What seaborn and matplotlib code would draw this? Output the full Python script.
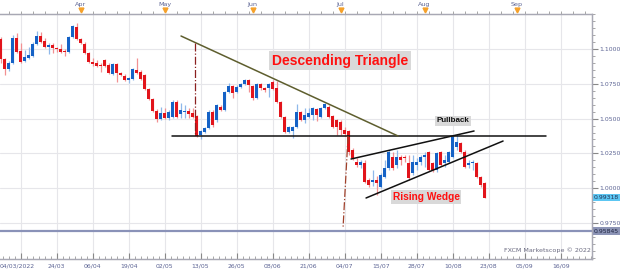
import numpy as np
import pandas as pd
import seaborn as sns
import matplotlib.pyplot as plt
import matplotlib.transforms as mtransforms
from matplotlib.ticker import MultipleLocator, FixedLocator

# daily candles, index = trading days counted from the first grid line
start_idx = -5
opens = [1.1072, 1.0928, 1.0856, 1.0899, 1.1079,
         1.0986, 1.0914, 1.0935, 1.0950, 1.1036, 1.1093, 1.1057, 1.1014, 1.1029, 1.1007,
         1.1000, 1.0986, 1.0978, 1.1086, 1.1158, 1.1072, 1.1036, 1.0971, 1.0907, 1.0899,
         1.0885, 1.0921, 1.0885, 1.0821, 1.0892, 1.0828, 1.0806, 1.0777, 1.0785, 1.0849,
         1.0835, 1.0813, 1.0713, 1.0641, 1.0555, 1.0497, 1.0540, 1.0505, 1.0512, 1.0619,
         1.0533, 1.0548, 1.0555, 1.0540, 1.0519, 1.0383, 1.0404, 1.0433, 1.0548, 1.0490,
         1.0584, 1.0562, 1.0691, 1.0734, 1.0691, 1.0727, 1.0749, 1.0777, 1.0734, 1.0648,
         1.0749, 1.0720, 1.0720, 1.0763, 1.0720, 1.0619, 1.0512, 1.0404, 1.0411, 1.0440,
         1.0548, 1.0490, 1.0512, 1.0526, 1.0569, 1.0512, 1.0576, 1.0584, 1.0519, 1.0490,
         1.0476, 1.0418, 1.0411, 1.0275, 1.0189, 1.0167, 1.0181, 1.0059, 1.0045, 1.0059,
         1.0009, 1.0081, 1.0146, 1.0225, 1.0167, 1.0225, 1.0225, 1.0181, 1.0110, 1.0167,
         1.0189, 1.0225, 1.0260, 1.0181, 1.0131, 1.0260, 1.0181, 1.0189, 1.0225, 1.0296,
         1.0325, 1.0260, 1.0167, 1.0181, 1.0181, 1.0081, 1.0038]
highs = [1.1086, 1.0935, 1.0914, 1.1101, 1.1115,
         1.1043, 1.0993, 1.1014, 1.1050, 1.1129, 1.1122, 1.1079, 1.1043, 1.1043, 1.1014,
         1.1036, 1.1000, 1.1093, 1.1172, 1.1187, 1.1079, 1.1050, 1.0978, 1.0935, 1.0921,
         1.0899, 1.0928, 1.0899, 1.0899, 1.0899, 1.0835, 1.0821, 1.0799, 1.0864, 1.0935,
         1.0849, 1.0821, 1.0720, 1.0648, 1.0569, 1.0584, 1.0576, 1.0562, 1.0634, 1.0634,
         1.0612, 1.0598, 1.0576, 1.0576, 1.0526, 1.0418, 1.0440, 1.0562, 1.0562, 1.0605,
         1.0598, 1.0698, 1.0756, 1.0742, 1.0742, 1.0756, 1.0785, 1.0785, 1.0742, 1.0756,
         1.0756, 1.0727, 1.0756, 1.0777, 1.0770, 1.0627, 1.0519, 1.0447, 1.0447, 1.0605,
         1.0555, 1.0576, 1.0576, 1.0584, 1.0576, 1.0584, 1.0612, 1.0598, 1.0526, 1.0497,
         1.0490, 1.0440, 1.0418, 1.0289, 1.0217, 1.0203, 1.0203, 1.0074, 1.0131, 1.0088,
         1.0110, 1.0203, 1.0275, 1.0260, 1.0275, 1.0239, 1.0239, 1.0239, 1.0239, 1.0217,
         1.0239, 1.0260, 1.0268, 1.0189, 1.0260, 1.0268, 1.0239, 1.0268, 1.0383, 1.0383,
         1.0332, 1.0275, 1.0203, 1.0203, 1.0189, 1.0088, 1.0045]
lows = [1.0899, 1.0813, 1.0842, 1.0892, 1.0971,
        1.0899, 1.0907, 1.0928, 1.0943, 1.1029, 1.1043, 1.1007, 1.0964, 1.0971, 1.0978,
        1.0971, 1.0950, 1.0971, 1.1079, 1.1065, 1.1036, 1.0964, 1.0899, 1.0878, 1.0871,
        1.0835, 1.0871, 1.0821, 1.0813, 1.0763, 1.0806, 1.0770, 1.0756, 1.0777, 1.0821,
        1.0777, 1.0706, 1.0634, 1.0548, 1.0476, 1.0490, 1.0497, 1.0490, 1.0505, 1.0505,
        1.0505, 1.0505, 1.0505, 1.0505, 1.0368, 1.0354, 1.0397, 1.0426, 1.0440, 1.0476,
        1.0555, 1.0555, 1.0684, 1.0648, 1.0684, 1.0720, 1.0742, 1.0691, 1.0634, 1.0641,
        1.0706, 1.0691, 1.0655, 1.0706, 1.0612, 1.0505, 1.0397, 1.0397, 1.0361, 1.0433,
        1.0483, 1.0469, 1.0505, 1.0490, 1.0483, 1.0505, 1.0569, 1.0505, 1.0433, 1.0383,
        1.0383, 1.0375, 1.0239, 1.0203, 1.0153, 1.0146, 1.0038, 1.0009, 1.0017, 0.9952,
        1.0002, 1.0074, 1.0131, 1.0131, 1.0146, 1.0167, 1.0189, 1.0059, 1.0095, 1.0131,
        1.0167, 1.0153, 1.0124, 1.0117, 1.0117, 1.0160, 1.0153, 1.0181, 1.0217, 1.0275,
        1.0253, 1.0146, 1.0146, 1.0131, 1.0074, 1.0009, 0.9930]
closes = [1.0928, 1.0856, 1.0899, 1.1079, 1.0978,
          1.0907, 1.0943, 1.0957, 1.1036, 1.1093, 1.1050, 1.1014, 1.1029, 1.1007, 1.1000,
          1.0978, 1.0978, 1.1086, 1.1165, 1.1072, 1.1043, 1.0971, 1.0907, 1.0892, 1.0878,
          1.0878, 1.0878, 1.0828, 1.0892, 1.0828, 1.0813, 1.0777, 1.0792, 1.0856, 1.0828,
          1.0785, 1.0713, 1.0641, 1.0555, 1.0497, 1.0540, 1.0505, 1.0548, 1.0619, 1.0512,
          1.0562, 1.0555, 1.0533, 1.0512, 1.0375, 1.0411, 1.0433, 1.0548, 1.0454, 1.0598,
          1.0562, 1.0691, 1.0734, 1.0684, 1.0727, 1.0749, 1.0777, 1.0742, 1.0648, 1.0749,
          1.0720, 1.0706, 1.0749, 1.0713, 1.0619, 1.0512, 1.0404, 1.0440, 1.0440, 1.0548,
          1.0490, 1.0526, 1.0540, 1.0576, 1.0526, 1.0576, 1.0605, 1.0512, 1.0440, 1.0440,
          1.0418, 1.0390, 1.0260, 1.0217, 1.0167, 1.0189, 1.0045, 1.0024, 1.0059, 1.0038,
          1.0095, 1.0146, 1.0260, 1.0146, 1.0225, 1.0203, 1.0217, 1.0074, 1.0189, 1.0189,
          1.0225, 1.0239, 1.0131, 1.0131, 1.0253, 1.0167, 1.0203, 1.0260, 1.0368, 1.0332,
          1.0260, 1.0153, 1.0181, 1.0189, 1.0081, 1.0024, 0.99318]

date_ticks = [0, 9, 18, 27, 36, 45, 54, 63, 72, 81, 90, 99, 108, 117, 126, 135]
date_labels = ["04/03/2022", "24/03", "06/04", "19/04", "02/05", "13/05", "26/05", "08/06",
               "21/06", "04/07", "15/07", "28/07", "10/08", "23/08", "05/09", "16/09"]
month_ticks = [15, 36, 58, 80, 101, 124]
month_labels = ["Apr", "May", "Jun", "Jul", "Aug", "Sep"]
price_ticks = [0.975, 1.0, 1.025, 1.05, 1.075, 1.1]

# hand drawn studies (trading-day index, price)
support_x, support_y = [37.9, 131.4], [1.0375, 1.0375]
desc_x, desc_y = [40.1, 94.35], [1.1093, 1.0375]
drop1_x, drop1_y = [43.7, 43.7], [1.1043, 1.0375]
drop2_x, drop2_y = [81.85, 80.6], [1.0375, 0.9715]
wedge_top_x, wedge_top_y = [82.6, 113.35], [1.0210, 1.0411]
wedge_low_x, wedge_low_y = [86.35, 120.6], [0.9930, 1.0339]
bottom_level = 0.9693
last_price = 0.99318

df = pd.DataFrame({"idx": np.arange(start_idx, start_idx + len(opens)),
                   "open": opens, "high": highs, "low": lows, "close": closes})
df["up"] = df["close"] >= df["open"]

sns.set_style("white")
plt.rcParams["font.family"] = ["DejaVu Sans"]

fig = plt.figure(figsize=(6.25, 2.72), dpi=100)
ax = fig.add_axes([0, 0.0478, 0.947, 0.9007])
ax.set_xlim(-5.15, 142.8)
ax.set_ylim(0.9492, 1.1251)

grid_col = "#e6e6ea"
for t in date_ticks:
    ax.axvline(t, color=grid_col, lw=0.8, zorder=0)
for p in price_ticks:
    ax.axhline(p, color=grid_col, lw=0.8, zorder=0)

for up, body_col, wick_col in [(True, "#1562c6", "#8fb8ea"), (False, "#e2141b", "#f29092")]:
    d = df[df["up"] == up]
    ax.vlines(d["idx"], d["low"], d["high"], color=wick_col, lw=0.9, zorder=3)
    ax.bar(d["idx"], (d["close"] - d["open"]).abs().clip(lower=0.0004),
           bottom=d[["open", "close"]].min(axis=1), width=0.78,
           color=body_col, lw=0, zorder=4)

sns.lineplot(x=support_x, y=support_y, ax=ax, color="#111111", lw=1.1, zorder=5)
sns.lineplot(x=desc_x, y=desc_y, ax=ax, color="#5e5e2e", lw=1.1, zorder=5)
sns.lineplot(x=wedge_top_x, y=wedge_top_y, ax=ax, color="#111111", lw=1.1, zorder=5)
sns.lineplot(x=wedge_low_x, y=wedge_low_y, ax=ax, color="#111111", lw=1.1, zorder=5)
ax.plot(drop1_x, drop1_y, color="#8b2020", lw=0.9, ls="-.", zorder=5)
ax.plot(drop2_x, drop2_y, color="#a0402a", lw=0.9, ls="-.", zorder=5)
ax.axhline(bottom_level, color="#8a92b8", lw=1.6, zorder=2)

box = dict(boxstyle="square,pad=0.18", fc="#d9d9d9", ec="none")
ax.text(79.85, 1.0914, "Descending Triangle", color="#ff1010", fontsize=10,
        fontweight="bold", family="Liberation Sans", ha="center", va="center", bbox=box, zorder=6)
ax.text(101.35, 0.9937, "Rising Wedge", color="#ff1010", fontsize=7.3,
        fontweight="bold", family="Liberation Sans", ha="center", va="center", bbox=box, zorder=6)
ax.text(108.1, 1.0483, "Pullback", color="#111111", fontsize=5.8,
        fontweight="bold", family="Liberation Sans", ha="center", va="center", bbox=box, zorder=6)
ax.text(0.998, 0.034, "FXCM Marketscope © 2022", transform=ax.transAxes, fontsize=4.6,
        color="#6a6a80", ha="right", va="center")

lab_col = "#5c6494"
ax.yaxis.tick_right()
ax.yaxis.set_major_locator(FixedLocator(price_ticks))
ax.yaxis.set_minor_locator(MultipleLocator(0.005))
ax.yaxis.set_major_formatter(lambda v, pos: f"{v:.4f}")
ax.tick_params(axis="y", which="major", length=4, color="#888888", labelsize=4.4,
               labelcolor=lab_col, pad=1.5, right=True, left=False)
ax.tick_params(axis="y", which="minor", length=2, color="#999999", right=True, left=False)

ax.xaxis.set_major_locator(FixedLocator(date_ticks))
ax.set_xticklabels(date_labels)
ax.xaxis.set_minor_locator(MultipleLocator(1.5))
ax.tick_params(axis="x", which="major", direction="in", length=4, color="#888888",
               labelsize=4.4, labelcolor=lab_col, pad=3)
ax.tick_params(axis="x", which="minor", direction="in", length=2, color="#999999")
first = ax.get_xticklabels()[0]
first.set_horizontalalignment("left")
first.set_transform(first.get_transform() +
                    mtransforms.ScaledTranslation(-0.205, 0, fig.dpi_scale_trans))

trans = mtransforms.blended_transform_factory(ax.transAxes, ax.transData)
ax.text(1.003, last_price, f"{last_price:.5f}", transform=trans, fontsize=4.4, color="#223355",
        ha="left", va="center", bbox=dict(boxstyle="square,pad=0.2", fc="#5cc6f2", ec="none"))
ax.text(1.003, bottom_level, "0.95845", transform=trans, fontsize=4.4, color="#1e2440",
        ha="left", va="center", bbox=dict(boxstyle="square,pad=0.2", fc="#8c94b6", ec="none"))

top = ax.twiny()
top.set_xlim(ax.get_xlim())
top.xaxis.set_major_locator(FixedLocator(month_ticks))
top.set_xticklabels(month_labels)
top.xaxis.set_minor_locator(MultipleLocator(3))
top.tick_params(axis="x", which="major", length=0, labelsize=4.6, labelcolor=lab_col, pad=5)
top.tick_params(axis="x", which="minor", length=2.5, color="#999999")
mtrans = mtransforms.blended_transform_factory(ax.transData, ax.transAxes)
ax.plot(month_ticks, [1.018] * len(month_ticks), "v", color="#f5a12a", ms=3.5,
        transform=mtrans, clip_on=False, zorder=7)

for a in (ax, top):
    a.spines["left"].set_visible(False)
    for s in ("top", "bottom", "right"):
        a.spines[s].set_color("#a8a8b4")
        a.spines[s].set_linewidth(0.9)

fig.savefig("out.png", dpi=100)
